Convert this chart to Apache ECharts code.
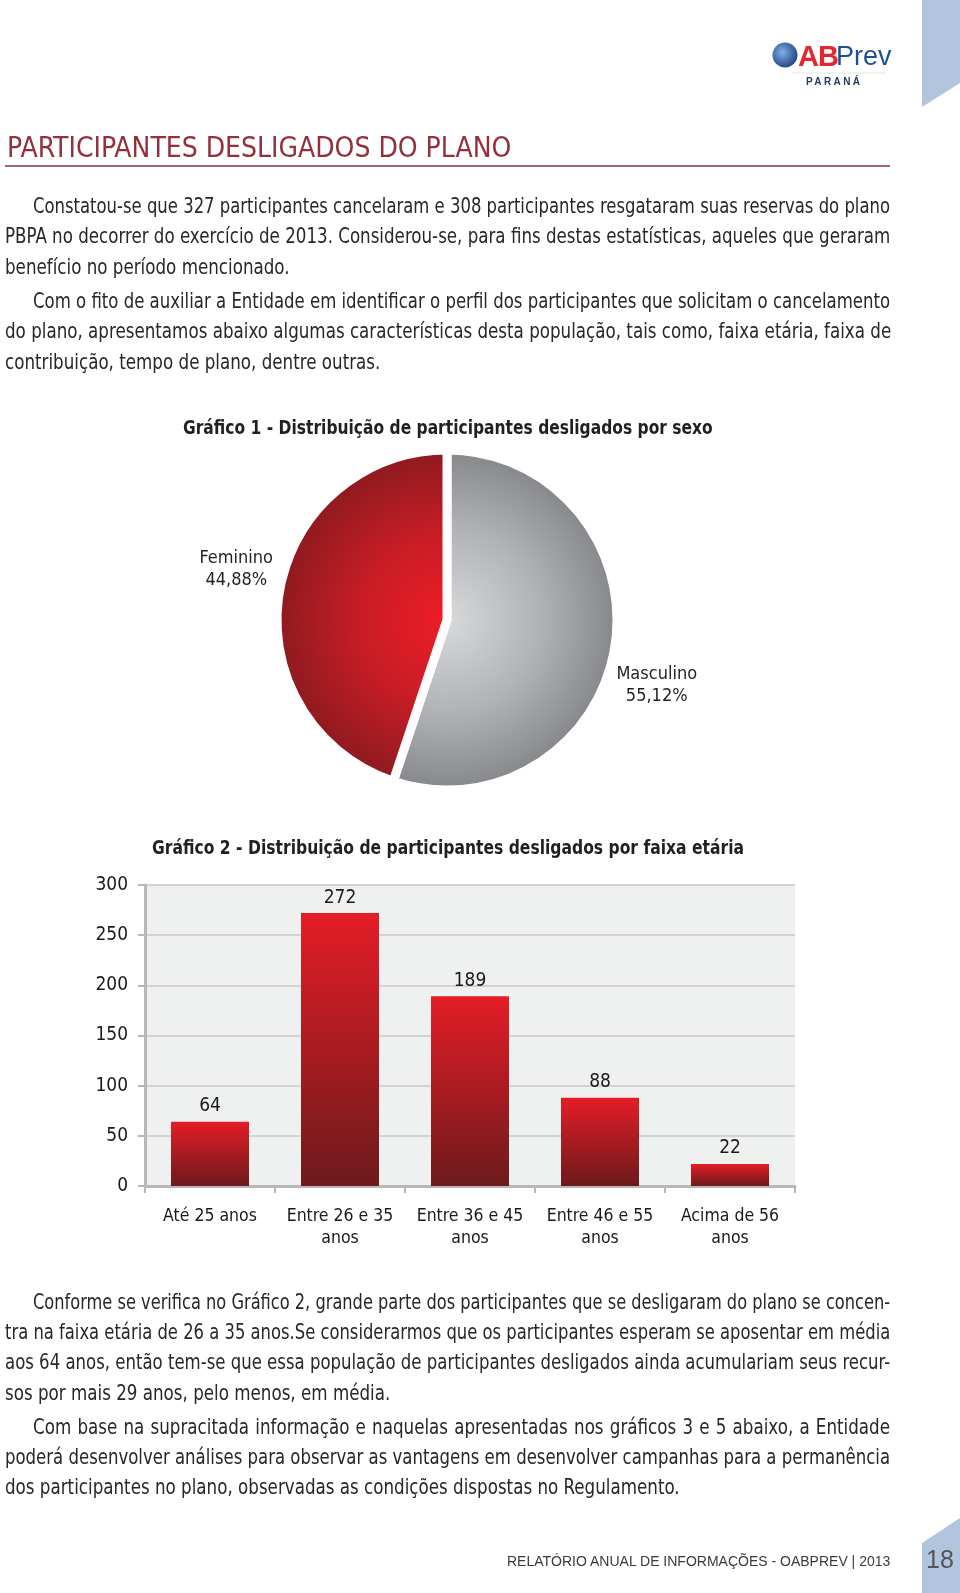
<!DOCTYPE html>
<html>
<head>
<meta charset="utf-8">
<script src="https://cdn.jsdelivr.net/npm/echarts@6/dist/echarts.min.js"></script>
<style>
html,body{margin:0;padding:0;background:#fff;}
#page{position:relative;width:960px;height:1593px;overflow:hidden;background:#fff;}
#chart{position:absolute;left:0;top:0;width:960px;height:1593px;}
.ln{position:absolute;white-space:nowrap;font-family:"DejaVu Sans Condensed","Liberation Sans Narrow",sans-serif;font-size:21px;color:#2a2627;height:30px;line-height:30px;transform-origin:0 50%;}
.j{text-align:justify;text-align-last:justify;}
.ct{position:absolute;white-space:nowrap;font-family:"DejaVu Sans Condensed","Liberation Sans Narrow",sans-serif;font-weight:bold;font-size:20px;color:#231f20;height:28px;line-height:28px;transform-origin:0 50%;}
#h1{position:absolute;left:7px;top:131px;font-family:"DejaVu Sans Condensed","Liberation Sans Narrow",sans-serif;font-size:28px;color:#93303b;white-space:nowrap;line-height:34px;}
#rule{position:absolute;left:5px;top:165px;width:885px;height:2px;background:#a8676f;}
#foot{position:absolute;left:507px;top:1550px;font-family:"Liberation Sans",sans-serif;font-size:14px;color:#3a3a3a;white-space:nowrap;line-height:22px;}
#pg{position:absolute;left:926px;top:1544px;font-family:"Liberation Sans",sans-serif;font-size:25px;color:#555;line-height:30px;}
#logoAB{position:absolute;left:798px;top:39px;font-family:"Liberation Sans",sans-serif;font-weight:bold;font-size:29px;color:#e2282e;line-height:34px;letter-spacing:-1px;}
#logoPrev{position:absolute;left:836px;top:39px;font-family:"Liberation Sans",sans-serif;font-size:27px;color:#1e4f96;line-height:34px;}
#logoPR{position:absolute;left:806px;top:76px;font-family:"Liberation Sans",sans-serif;font-weight:bold;font-size:10px;color:#243a63;letter-spacing:2.4px;line-height:12px;}
</style>
</head>
<body>
<div id="page">
  <div id="chart"></div>
  <div id="h1">PARTICIPANTES DESLIGADOS DO PLANO</div>
  <div id="rule"></div>
  <div id="logoAB">AB</div>
  <div id="logoPrev">Prev</div>
  <div id="logoPR">PARANÁ</div>
  <div id="foot">RELATÓRIO ANUAL DE INFORMAÇÕES - OABPREV | 2013</div>
  <div id="pg">18</div>
</div>
<script>
// ---- chart data ----
const sexCategories = ['Masculino', 'Feminino'];
const sexValues = [55.12, 44.88];
const ageCategories = ['Até 25 anos', 'Entre 26 e 35\nanos', 'Entre 36 e 45\nanos', 'Entre 46 e 55\nanos', 'Acima de 56\nanos'];
const ageValues = [64, 272, 189, 88, 22];
const yMin = 0, yMax = 300, yInterval = 50;
const chart1Title = 'Gráfico 1 - Distribuição de participantes desligados por sexo';
const chart2Title = 'Gráfico 2 - Distribuição de participantes desligados por faixa etária';

// ---- page text ----
const paragraph1 = [
  'Constatou-se que 327 participantes cancelaram e 308 participantes resgataram suas reservas do plano',
  'PBPA no decorrer do exercício de 2013. Considerou-se, para fins destas estatísticas, aqueles que geraram',
  'benefício no período mencionado.'
];
const paragraph2 = [
  'Com o fito de auxiliar a Entidade em identificar o perfil dos participantes que solicitam o cancelamento',
  'do plano, apresentamos abaixo algumas características desta população, tais como, faixa etária, faixa de',
  'contribuição, tempo de plano, dentre outras.'
];
const paragraph3 = [
  'Conforme se verifica no Gráfico 2, grande parte dos participantes que se desligaram do plano se concen-',
  'tra na faixa etária de 26 a 35 anos.Se considerarmos que os participantes esperam se aposentar em média',
  'aos 64 anos, então tem-se que essa população de participantes desligados ainda acumulariam seus recur-',
  'sos por mais 29 anos, pelo menos, em média.'
];
const paragraph4 = [
  'Com base na supracitada informação e naquelas apresentadas nos gráficos 3 e 5 abaixo, a Entidade',
  'poderá desenvolver análises para observar as vantagens em desenvolver campanhas para a permanência',
  'dos participantes no plano, observadas as condições dispostas no Regulamento.'
];

const page = document.getElementById('page');
const baseScale = 0.885;
function addParagraph(lines, firstY) {
  lines.forEach((t, i) => {
    const d = document.createElement('div');
    const left = i === 0 ? 33 : 5;
    const last = i === lines.length - 1;
    d.className = 'ln' + (last ? '' : ' j');
    d.style.left = left + 'px';
    d.style.top = (firstY + i * 30.4 - 15) + 'px';
    d.textContent = t;
    page.appendChild(d);
    if (!last) {
      const target = 890 - left;
      d.style.width = (target / baseScale) + 'px';
      if (d.scrollWidth > d.clientWidth + 1) {
        const w = d.scrollWidth;
        d.style.width = w + 'px';
        d.style.transform = 'scaleX(' + (target / w) + ')';
      } else {
        d.style.transform = 'scaleX(' + baseScale + ')';
      }
    } else {
      d.style.transform = 'scaleX(' + baseScale + ')';
    }
  });
}
addParagraph(paragraph1, 206);
addParagraph(paragraph2, 301);
addParagraph(paragraph3, 1301.5);
addParagraph(paragraph4, 1426.5);

function addChartTitle(text, cx, cy, width) {
  const d = document.createElement('div');
  d.className = 'ct';
  d.textContent = text;
  page.appendChild(d);
  const w = d.scrollWidth;
  const s = width / w;
  d.style.left = (cx - width / 2) + 'px';
  d.style.top = (cy - 14) + 'px';
  d.style.transform = 'scaleX(' + s + ')';
}
addChartTitle(chart1Title, 448, 427, 530);
addChartTitle(chart2Title, 448, 847, 592);

// ---- chart ----
const chart = echarts.init(document.getElementById('chart'), null, {renderer: 'canvas'});
const chartFont = '"DejaVu Sans Condensed", "DejaVu Sans", sans-serif';
const pieColors = [
  {type: 'radial', x: 447, y: 620, r: 172, global: true,
   colorStops: [{offset: 0, color: '#d8d9db'}, {offset: 0.55, color: '#b0b1b4'}, {offset: 1, color: '#85868a'}]},
  {type: 'radial', x: 447, y: 620, r: 172, global: true,
   colorStops: [{offset: 0, color: '#ee1c26'}, {offset: 0.5, color: '#c81d25'}, {offset: 1, color: '#8c1a20'}]}
];
const pieLabelShift = [[31, 37], [-32, -22]];

const option = {
  animation: false,
  backgroundColor: 'transparent',
  graphic: [
    {type: 'polygon', shape: {points: [[922, 0], [960, 0], [960, 83], [922, 107]]}, style: {fill: '#b1c5df'}},
    {type: 'polygon', shape: {points: [[922, 1543], [960, 1518], [960, 1593], [922, 1593]]}, style: {fill: '#b1c5df'}},
    {type: 'circle', shape: {cx: 785, cy: 55, r: 12.5},
     style: {fill: {type: 'radial', x: 0.4, y: 0.4, r: 0.7, colorStops: [{offset: 0, color: '#7fb0e6'}, {offset: 1, color: '#173a78'}]}}},
    {type: 'line', shape: {x1: 792, y1: 73, x2: 886, y2: 73}, style: {stroke: '#e4e4e4', lineWidth: 1}}
  ],
  grid: {left: 145, right: 165, top: 885, bottom: 407, show: true, backgroundColor: '#eff0f0', borderWidth: 0, containLabel: false, outerBoundsMode: 'none'},
  xAxis: {
    type: 'category', data: ageCategories,
    axisLine: {show: true, lineStyle: {color: '#b8b8b8', width: 3}},
    axisTick: {show: true, length: 7, lineStyle: {color: '#b8b8b8', width: 2}},
    axisLabel: {fontFamily: chartFont, fontSize: 17.5, color: '#1a1a1a', lineHeight: 22, margin: 19, interval: 0}
  },
  yAxis: {
    type: 'value', min: yMin, max: yMax, interval: yInterval,
    axisLine: {show: true, lineStyle: {color: '#b8b8b8', width: 3}},
    axisTick: {show: true, length: 7, lineStyle: {color: '#b8b8b8', width: 2}},
    splitLine: {show: true, lineStyle: {color: '#d3d3d3', width: 2}},
    axisLabel: {fontFamily: chartFont, fontSize: 19, color: '#1a1a1a', margin: 17}
  },
  series: [
    {
      type: 'pie', center: [447, 620], radius: 170, startAngle: 90, clockwise: true,
      silent: true,
      data: sexCategories.map((n, i) => ({name: n, value: sexValues[i], itemStyle: {color: pieColors[i]}})),
      itemStyle: {borderColor: '#ffffff', borderWidth: 9},
      label: {
        show: true, position: 'outside',
        formatter: p => p.name + '\n' + p.value.toFixed(2).replace('.', ',') + '%',
        fontFamily: chartFont, fontSize: 18, lineHeight: 22, color: '#231f20'
      },
      labelLine: {show: false, length: 6, length2: 0},
      labelLayout: p => ({align: 'center', verticalAlign: 'middle', dx: pieLabelShift[p.dataIndex][0], dy: pieLabelShift[p.dataIndex][1]})
    },
    {
      type: 'bar', data: ageValues, barWidth: '60%',
      itemStyle: {color: new echarts.graphic.LinearGradient(0, 0, 0, 1, [{offset: 0, color: '#e41d26'}, {offset: 1, color: '#6c1a1d'}])},
      label: {show: true, position: 'top', distance: 6, fontFamily: chartFont, fontSize: 19, color: '#1a1a1a'}
    }
  ]
};
chart.setOption(option);
</script>
</body>
</html>
